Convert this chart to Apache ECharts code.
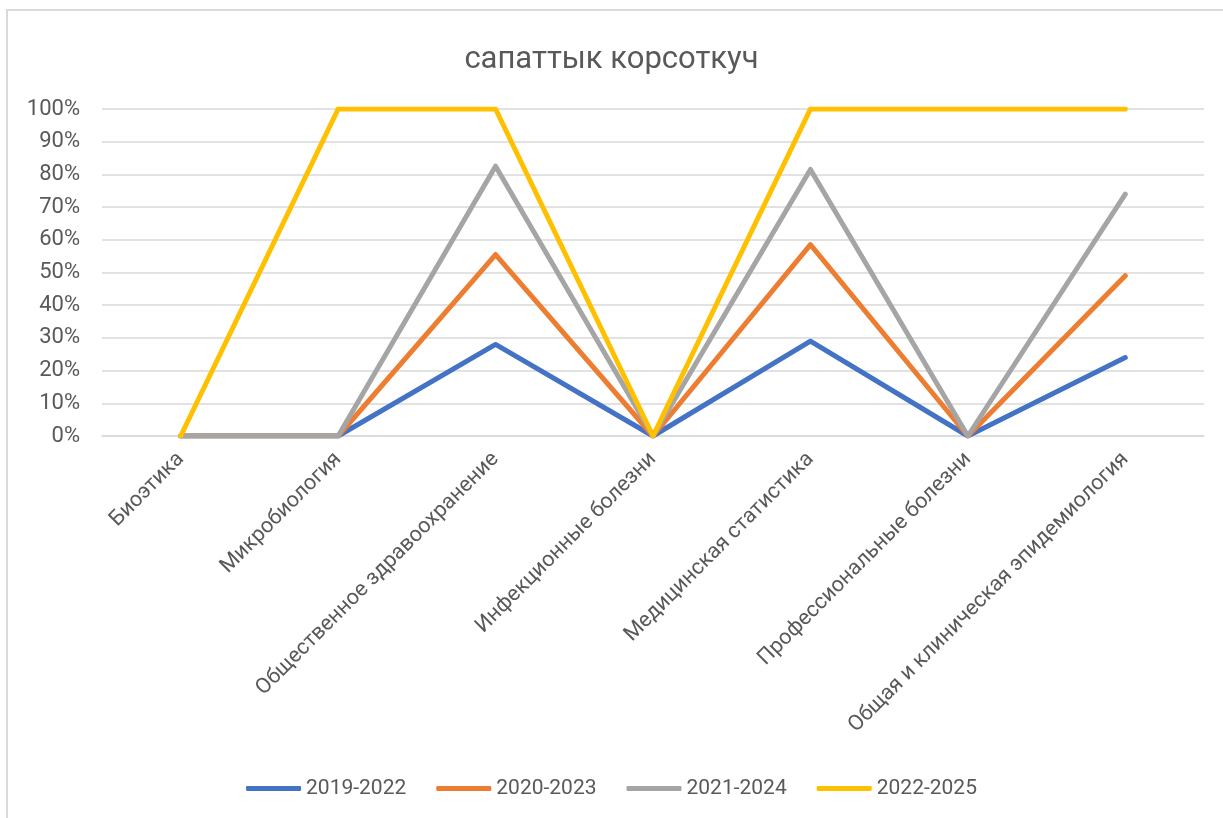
<!DOCTYPE html>
<html>
<head>
<meta charset="utf-8">
<script src="https://cdn.jsdelivr.net/npm/echarts@6/dist/echarts.min.js"></script>
<style>
html,body{margin:0;padding:0;background:#fff;}
#c{width:1223px;height:818px;}
</style>
</head>
<body>
<div id="c"></div>
<script>
const titleText = 'сапаттык корсоткуч';
const categories = ['Биоэтика','Микробиология','Общественное здравоохранение','Инфекционные болезни','Медицинская статистика','Профессиональные болезни','Общая и клиническая эпидемиология'];
const seriesNames = ['2019-2022','2020-2023','2021-2024','2022-2025'];
const s2019 = [0, 0, 0.28, 0, 0.29, 0, 0.24];
const s2020 = [0, 0, 0.555, 0, 0.585, 0, 0.49];
const s2021 = [0, 0, 0.825, 0, 0.815, 0, 0.74];
const s2022 = [0, 1, 1, 0, 1, 1, 1];
const colors = ['#4472C4','#ED7D31','#A5A5A5','#FFC000'];
const font = 'Roboto, "Open Sans", sans-serif';
const textColor = '#595959';

const chart = echarts.init(document.getElementById('c'), null, {renderer:'canvas'});
const data = [s2019, s2020, s2021, s2022];
chart.setOption({
  animation:false,
  backgroundColor:'#fff',
  graphic:[{type:'rect', shape:{x:7,y:10,width:1400,height:1000}, style:{fill:'none', stroke:'#d9d9d9', lineWidth:2}, silent:true}],
  title:{text:titleText, left:'center', top:40, textStyle:{fontFamily:font, fontSize:31, fontWeight:'normal', color:textColor}},
  legend:{bottom:14, left:'center', icon:'roundRect', itemWidth:55, itemHeight:5, itemGap:30,
    textStyle:{fontFamily:font, fontSize:21, color:textColor}, data:seriesNames},
  grid:{left:102, right:19, top:109, bottom:382, containLabel:false},
  xAxis:{type:'category', data:categories, boundaryGap:true,
    axisLine:{show:true, lineStyle:{color:'#d9d9d9', width:1.5}},
    axisTick:{show:false},
    axisLabel:{rotate:45, interval:0, margin:20, fontFamily:font, fontSize:21.5, color:textColor}},
  yAxis:{type:'value', min:0, max:1, interval:0.1,
    axisLine:{show:false}, axisTick:{show:false},
    splitLine:{lineStyle:{color:'#d9d9d9', width:1.5}},
    axisLabel:{margin:22, fontFamily:font, fontSize:22, color:textColor, formatter:v=>Math.round(v*100)+'%'}},
  series: seriesNames.map((n,i)=>({
    name:n, type:'line', data:data[i], showSymbol:false, symbol:'none',
    color:colors[i],
    lineStyle:{width:5, color:colors[i], cap:'round', join:'round'}
  }))
});
</script>
</body>
</html>
